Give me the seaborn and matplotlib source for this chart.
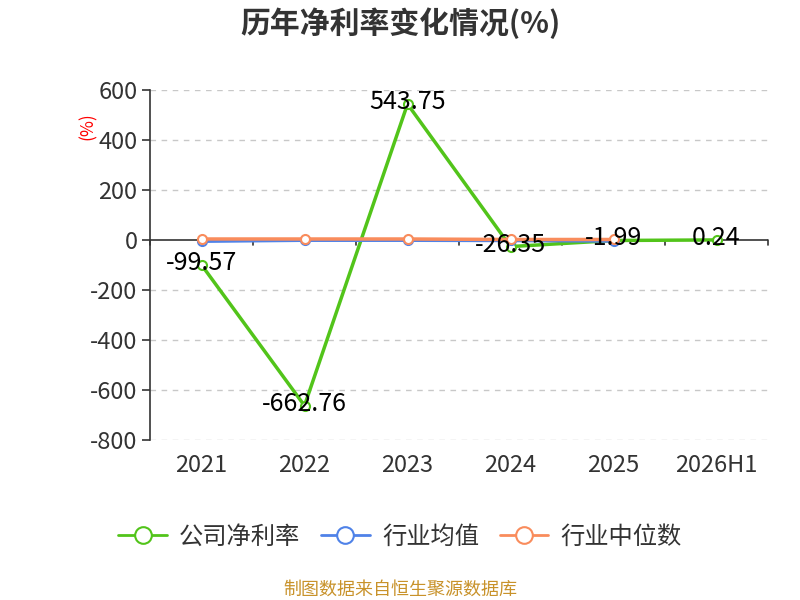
import matplotlib
matplotlib.use("Agg")
import matplotlib.pyplot as plt
from matplotlib.lines import Line2D
import seaborn as sns
import pandas as pd

years = ["2021", "2022", "2023", "2024", "2025", "2026H1"]
company = [-99.57, -662.76, 543.75, -26.35, -1.99, 0.24]
ind_years = ["2021", "2022", "2023", "2024", "2025"]
industry_avg = [-5.0, -1.0, -1.0, -2.0, -4.0]
industry_med = [4.0, 4.0, 4.0, 2.0, 2.0]
series_names = ["公司净利率", "行业均值", "行业中位数"]
colors = ["#52c41a", "#4f82e8", "#f98c5c"]

sns.set_theme(style="white")
plt.rcParams['font.family'] = ['Noto Sans CJK SC', 'DejaVu Sans']

df = pd.concat([
    pd.DataFrame({"year": years, "value": company, "series": series_names[0]}),
    pd.DataFrame({"year": ind_years, "value": industry_avg, "series": series_names[1]}),
    pd.DataFrame({"year": ind_years, "value": industry_med, "series": series_names[2]}),
])
df["x"] = df["year"].map({y: i for i, y in enumerate(years)})

fig = plt.figure(figsize=(8, 6), dpi=100)
ax = fig.add_axes([0.1875, 0.2667, 0.7725, 0.5833])

for name, col in zip(series_names, colors):
    sub = df[df["series"] == name]
    sns.lineplot(data=sub, x="x", y="value", ax=ax, color=col, lw=2.5, sort=False,
                 marker="o", markersize=6.5, markerfacecolor="white",
                 markeredgecolor=col, markeredgewidth=1.5, label=name, zorder=3)

ax.set_xlim(-0.5, len(years) - 0.5)
ax.set_ylim(-800, 600)
yt = list(range(-800, 601, 200))
ax.set_yticks(yt)
ax.set_yticklabels([str(v) for v in yt], fontsize=17, color="#333333")
for v in yt:
    if v != 0:
        ax.axhline(v, color="#c8c8c8", ls=(0, (4, 4)), lw=1, zorder=0)
ax.set_xticks(range(len(years)))
ax.set_xticklabels(years, fontsize=17, color="#333333")
ax.tick_params(axis="x", length=0, pad=10)
ax.tick_params(axis="y", length=6, width=1.2, color="#333333", direction="out", left=True, pad=3)
for s in ["top", "right", "bottom"]:
    ax.spines[s].set_visible(False)
ax.spines["left"].set_color("#333333")
ax.spines["left"].set_linewidth(1.2)
ax.axhline(0, color="#333333", lw=1.2, zorder=2)
for b in [i - 0.5 for i in range(len(years) + 1)]:
    ax.plot([b, b], [0, -22], color="#333333", lw=1.2, zorder=2, clip_on=False)
ax.set_xlabel("")
ax.set_ylabel("")

for i, v in enumerate(company):
    ax.text(i, v + 8, f"{v:.2f}", ha="center", va="center", fontsize=18, color="black", zorder=5)

ax.legend_.remove()
handles = [Line2D([0], [0], color=c, lw=2, marker="o", markersize=12,
                  markerfacecolor="white", markeredgecolor=c, markeredgewidth=1.5)
           for c in colors]
fig.legend(handles, series_names, loc="center", bbox_to_anchor=(0.5, 0.105), ncol=3, frameon=False,
           fontsize=17.5, handlelength=2.0, columnspacing=0.85, handletextpad=0.5,
           labelcolor="#333333")

fig.text(0.5, 0.962, "历年净利率变化情况(%)", ha="center", va="center", fontsize=21.5,
         fontweight="bold", color="#333333")
fig.text(0.11, 0.79, "(%)", ha="center", va="center", fontsize=12.5, color="red", rotation=90)
fig.text(0.5, 0.017, "制图数据来自恒生聚源数据库", ha="center", va="center", fontsize=13,
         color="#c8922a")

fig.savefig("out.png", dpi=100)
